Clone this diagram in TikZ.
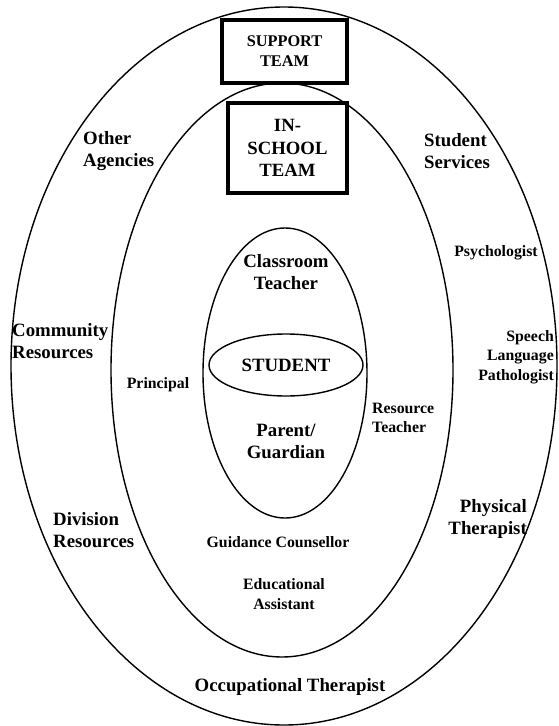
\documentclass[tikz,border=0pt]{standalone}
\usepackage{fontspec}
\setmainfont{Liberation Serif}
\tikzset{
  ring/.style={line width=1.4pt},
  teambox/.style={draw, line width=3.2pt, fill=white, align=center, inner sep=0pt},
  biglabel/.style={font=\bfseries\fontsize{18.8}{22}\selectfont, align=center, inner sep=0pt},
  smalllabel/.style={font=\bfseries\fontsize{15.8}{19.5}\selectfont, align=center, inner sep=0pt},
}
\begin{document}
\begin{tikzpicture}[x=1pt,y=-1pt]
\useasboundingbox (0,0) rectangle (559,726);
\draw[ring] (284,366) ellipse [x radius=273, y radius=359];
\draw[ring] (282,370) ellipse [x radius=171, y radius=287];
\draw[ring] (285,373) ellipse [x radius=82, y radius=145];
\draw[ring] (286,365) ellipse [x radius=77, y radius=31];
%
\node(support)[teambox, minimum width=125pt, minimum height=63pt, font=\bfseries\fontsize{16.3}{20}\selectfont] at (284.5,51.5) {SUPPORT\\TEAM};
\node(inschool)[teambox, minimum width=119pt, minimum height=90pt, font=\bfseries\fontsize{18.7}{22.5}\selectfont] at (287.5,148) {IN-\\SCHOOL\\TEAM};
%
\node(agencies)[biglabel, align=left, anchor=west] at (83,151) {Other\\Agencies};
\node(services)[biglabel, align=left] at (457,151) {Student\\Services};
\node(community)[biglabel, align=left, anchor=west] at (12,341) {Community\\Resources};
\node(division)[biglabel, align=left, anchor=west] at (53,530) {Division\\Resources};
\node(physical)[biglabel, align=right, anchor=east] at (527,519) {Physical\\Therapist};
\node(occupational)[biglabel] at (290,687) {Occupational Therapist};
\node(classroom)[biglabel] at (286,272) {Classroom\\Teacher};
\node(student)[biglabel] at (286,365) {STUDENT};
\node(parent)[biglabel] at (286,441) {Parent/\\Guardian};
%
\node(psych)[smalllabel] at (496,253) {Psychologist};
\node(speech)[smalllabel, align=right, anchor=east] at (554,357) {Speech\\Language\\Pathologist};
\node(principal)[smalllabel] at (158,385) {Principal};
\node(resource)[smalllabel, align=left, anchor=west] at (372,418) {Resource\\Teacher};
\node(guidance)[smalllabel] at (278,542) {Guidance Counsellor};
\node(assistant)[smalllabel] at (284,594) {Educational\\Assistant};
\end{tikzpicture}
\end{document}
